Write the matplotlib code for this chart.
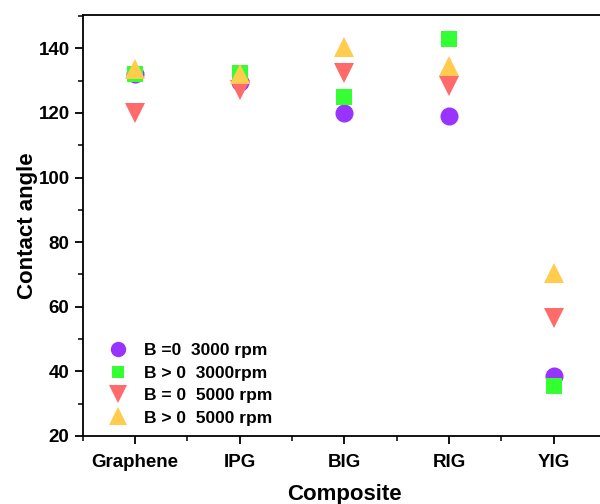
import matplotlib.pyplot as plt
import numpy as np
from matplotlib.ticker import MultipleLocator

plt.rcParams['font.family'] = ['Liberation Sans', 'DejaVu Sans']
plt.rcParams['font.weight'] = 'bold'

# Composites on the x axis
composites = ["Graphene", "IPG", "BIG", "RIG", "YIG"]

# Contact angle for each condition
b0_3000 = [132, 129.5, 120, 119, 38.5]
bp_3000 = [132, 132.5, 125, 143, 35.5]
b0_5000 = [120, 127, 132.5, 128.5, 56.5]
bp_5000 = [133.5, 132, 140.5, 134.5, 70.5]

labels = ["B =0  3000 rpm", "B > 0  3000rpm", "B = 0  5000 rpm", "B > 0  5000 rpm"]

x = np.arange(1, len(composites) + 1)

fig = plt.figure(figsize=(6.0, 5.04), dpi=100)
ax = fig.add_axes([0.138, 0.135, 0.872, 0.835])

ax.plot(x, b0_3000, 'o', color='#9933FF', ms=13, mew=0, label=labels[0])
ax.plot(x, bp_3000, 's', color='#33FF33', ms=11, mew=0, label=labels[1])
ax.plot(x, b0_5000, 'v', color='#FF6B6B', ms=14.5, mew=0, label=labels[2])
ax.plot(x, bp_5000, '^', color='#FFCC4D', ms=14.5, mew=0, label=labels[3])

ax.set_xlim(0.5, 5.5)
ax.set_ylim(20, 150.3)
ax.set_xticks(x)
ax.set_xticklabels(composites)
ax.xaxis.set_minor_locator(MultipleLocator(0.5))
ax.yaxis.set_major_locator(MultipleLocator(20))
ax.yaxis.set_minor_locator(MultipleLocator(10))

ax.tick_params(which='major', direction='out', length=6, width=1.3, labelsize=13.5)
ax.tick_params(axis='x', which='major', pad=7)
ax.tick_params(which='minor', direction='out', length=3.5, width=1.1)
ax.tick_params(top=False, right=False, which='both')
for sp in ax.spines.values():
    sp.set_linewidth(1.3)

ax.set_xlabel("Composite", fontsize=16, fontweight='bold', labelpad=9)
ax.set_ylabel("Contact angle", fontsize=16, fontweight='bold', labelpad=0.5)

ax.legend(loc='lower left', bbox_to_anchor=(0.015, 0.0), frameon=False,
          fontsize=12.5, handletextpad=0.5, labelspacing=0.42, markerscale=0.85,
          borderaxespad=0.2)

fig.savefig("out.png", dpi=100)
